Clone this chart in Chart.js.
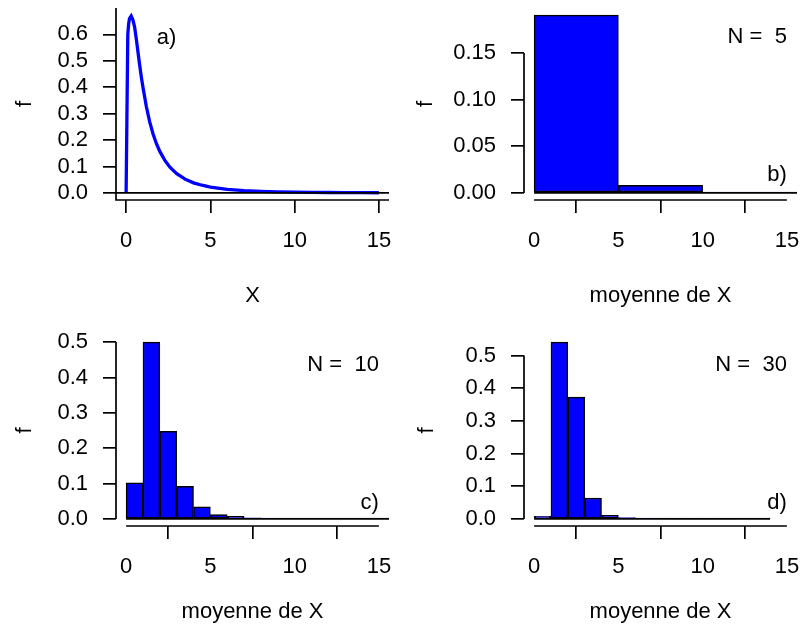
<!DOCTYPE html>
<html><head><meta charset="utf-8">
<script src="https://cdn.jsdelivr.net/npm/chart.js@4.4.0/dist/chart.umd.min.js"></script>
<style>
html,body{margin:0;padding:0;background:#fff;}
#wrap{position:relative;width:803px;height:636px;overflow:hidden;background:#fff;}
canvas{position:absolute;left:-100px;top:-100px;}
</style></head><body>
<div id="wrap">
<canvas id="ca" width="1003" height="836"></canvas>
<canvas id="cb" width="1003" height="836"></canvas>
<canvas id="cc" width="1003" height="836"></canvas>
<canvas id="cd" width="1003" height="836"></canvas>
</div>
<script>
// ---- data ----
const densX = [0, 0.1, 0.15, 0.2, 0.3, 0.4, 0.5, 0.6, 0.7, 0.8, 0.9, 1.0, 1.2, 1.4, 1.6, 1.8, 2.0, 2.3, 2.6, 3.0, 3.5, 4.0, 4.5, 5, 6, 7, 8, 9, 10, 11, 12, 13, 14, 15];
const densY = [0, 0.60, 0.64, 0.66, 0.67, 0.655, 0.63, 0.585, 0.535, 0.486, 0.44, 0.40, 0.327, 0.269, 0.223, 0.186, 0.157, 0.123, 0.097, 0.073, 0.052, 0.038, 0.029, 0.022, 0.013, 0.0086, 0.0057, 0.004, 0.0028, 0.002, 0.0015, 0.0011, 0.0008, 0.0006];

const breaksB = [0, 5, 10, 15, 20];
const histB = [0.1907, 0.0082, 0.0008, 0.0002];

const breaksC = [0,1,2,3,4,5,6,7,8,9,10,11,12,13,14,15,16];
const histC = [0.102, 0.500, 0.248, 0.0925, 0.034, 0.0125, 0.007, 0.003, 0.002, 0.0015, 0.001, 0.001, 0.001, 0.0005, 0.0003, 0.0005];

const breaksD = [0,1,2,3,4,5,6,7,8,9,10,11,12,13,14];
const histD = [0.008, 0.541, 0.3725, 0.064, 0.011, 0.004, 0.002, 0.0005, 0.0003, 0.0003, 0.0003, 0.0003, 0.001, 0.001];

const xTicks = [0, 5, 10, 15];
const xTickLabels = ["0", "5", "10", "15"];
const yTicksA = [0, 0.1, 0.2, 0.3, 0.4, 0.5, 0.6];
const yTickLabelsA = ["0.0", "0.1", "0.2", "0.3", "0.4", "0.5", "0.6"];
const yTicksB = [0, 0.05, 0.10, 0.15];
const yTickLabelsB = ["0.00", "0.05", "0.10", "0.15"];
const yTicksC = [0, 0.1, 0.2, 0.3, 0.4, 0.5];
const yTickLabelsC = ["0.0", "0.1", "0.2", "0.3", "0.4", "0.5"];
const yTicksD = [0, 0.1, 0.2, 0.3, 0.4, 0.5];
const yTickLabelsD = ["0.0", "0.1", "0.2", "0.3", "0.4", "0.5"];

// ---- style / layout ----
const FONT = '"Liberation Sans", Arial, Helvetica, sans-serif';
const FS = 22;
const BLUE = '#0000FF';
const LW = 1.7;
const OFF = 100;            // canvas is offset by -OFF px on both axes
const CW = 1003, CH = 836;  // canvas size

const rPlugin = {
  id: 'rstyle',
  afterDatasetsDraw(chart, args, o) {
    const ctx = chart.ctx, a = chart.chartArea, x = chart.scales.x, y = chart.scales.y;
    ctx.save();
    ctx.strokeStyle = '#000';
    ctx.lineWidth = LW;
    ctx.lineCap = 'butt';
    if (o.breaks) {
      ctx.save();
      ctx.beginPath(); ctx.rect(a.left, a.top - 2, a.right - a.left, a.bottom - a.top + 4); ctx.clip();
      ctx.beginPath();
      ctx.moveTo(x.getPixelForValue(o.breaks[0]), y.getPixelForValue(0));
      ctx.lineTo(x.getPixelForValue(o.breaks[o.breaks.length - 1]), y.getPixelForValue(0));
      ctx.stroke();
      ctx.restore();
    }
    if (o.abline0) {
      ctx.beginPath();
      ctx.moveTo(a.left, y.getPixelForValue(0));
      ctx.lineTo(a.right, y.getPixelForValue(0));
      ctx.stroke();
    }
    ctx.beginPath();
    if (o.box === 'l') {
      ctx.moveTo(a.left, a.top);
      ctx.lineTo(a.left, a.bottom);
      ctx.lineTo(a.right, a.bottom);
    } else {
      const yt = o.yTicks, xt = o.xTicks;
      ctx.moveTo(a.left, y.getPixelForValue(yt[0]));
      ctx.lineTo(a.left, y.getPixelForValue(yt[yt.length - 1]));
      ctx.moveTo(x.getPixelForValue(xt[0]), a.bottom);
      ctx.lineTo(x.getPixelForValue(xt[xt.length - 1]), a.bottom);
    }
    ctx.stroke();
    // titles
    ctx.fillStyle = '#000';
    ctx.font = FS + 'px ' + FONT;
    ctx.textAlign = 'center';
    ctx.textBaseline = 'alphabetic';
    ctx.fillText(o.xlab, (a.left + a.right) / 2, o.xlabY + OFF);
    ctx.save();
    ctx.translate(o.ylabX + OFF, (a.top + a.bottom) / 2);
    ctx.rotate(-Math.PI / 2);
    ctx.textBaseline = 'middle';
    ctx.fillText(o.ylab, 0, 0);
    ctx.restore();
    // notes
    ctx.textBaseline = 'middle';
    (o.notes || []).forEach(n => {
      ctx.textAlign = n.align;
      ctx.fillText(n.text, x.getPixelForValue(n.x), y.getPixelForValue(n.y));
    });
    ctx.restore();
  }
};

function scalesFor(area, xr, yr, yTicks, yLabels) {
  return {
    x: {
      type: 'linear', min: xr[0], max: xr[1], offset: false,
      afterBuildTicks: s => { s.ticks = xTicks.map(v => ({ value: v })); },
      afterFit: s => { s.height = CH - (area.bottom + OFF); },
      grid: { drawOnChartArea: false, drawTicks: true, tickLength: 13, color: '#000', lineWidth: LW },
      border: { display: false },
      ticks: { color: '#000', font: { family: FONT, size: FS, lineHeight: 1 }, padding: 17, maxRotation: 0, minRotation: 0, autoSkip: false,
        callback: (v) => { const i = xTicks.indexOf(v); return i >= 0 ? xTickLabels[i] : ''; } }
    },
    y: {
      type: 'linear', min: yr[0], max: yr[1],
      afterBuildTicks: s => { s.ticks = yTicks.map(v => ({ value: v })); },
      afterFit: s => { s.width = area.left + OFF; },
      grid: { drawOnChartArea: false, drawTicks: true, tickLength: 13, color: '#000', lineWidth: LW },
      border: { display: false },
      ticks: { color: '#000', font: { family: FONT, size: FS, lineHeight: 1 }, padding: 15, autoSkip: false,
        callback: (v) => { const i = yTicks.findIndex(t => Math.abs(t - v) < 1e-9); return i >= 0 ? yLabels[i] : ''; } }
    }
  };
}

function baseOptions(area, xr, yr, yTicks, yLabels, rs) {
  return {
    responsive: false, animation: false, events: [],
    layout: { padding: { left: 0, top: area.top + OFF, right: CW - (area.right + OFF), bottom: 0 } },
    plugins: { legend: { display: false }, tooltip: { enabled: false }, rstyle: rs },
    scales: scalesFor(area, xr, yr, yTicks, yLabels)
  };
}

function rRange(lo, hi) { const d = (hi - lo) * 0.04; return [lo - d, hi + d]; }

function histChart(id, area, breaks, vals, yTicks, yLabels, yTop, rs) {
  const pts = vals.map((v, i) => ({ x: (breaks[i] + breaks[i + 1]) / 2, y: v }));
  new Chart(document.getElementById(id), {
    type: 'bar',
    data: { datasets: [{ data: pts, backgroundColor: BLUE, borderColor: '#000', borderWidth: 1.5, borderSkipped: false, barPercentage: 1, categoryPercentage: 1 }] },
    options: baseOptions(area, rRange(0, 15), rRange(0, yTop), yTicks, yLabels, Object.assign({ breaks: breaks, yTicks: yTicks, xTicks: xTicks, box: 'axes' }, rs)),
    plugins: [rPlugin]
  });
}

// panel a
const areaA = { left: 116, right: 389, top: 8, bottom: 200 };
new Chart(document.getElementById('ca'), {
  type: 'line',
  data: { datasets: [{ data: densX.map((v, i) => ({ x: v, y: densY[i] })), borderColor: BLUE, borderWidth: 3.3, pointRadius: 0, tension: 0, fill: false }] },
  options: baseOptions(areaA, rRange(0, 15), rRange(0, 0.673), yTicksA, yTickLabelsA,
    { box: 'l', abline0: true, xlab: 'X', ylab: 'f', xlabY: 302, ylabX: 25,
      notes: [{ text: 'a)', x: 2.4, y: 0.585, align: 'center' }] }),
  plugins: [rPlugin]
});

// panel b
histChart('cb', { left: 524, right: 797, top: 8, bottom: 200 }, breaksB, histB, yTicksB, yTickLabelsB, 0.1907,
  { xlab: 'moyenne de X', ylab: 'f', xlabY: 302, ylabX: 426,
    notes: [{ text: 'N =  5', x: 15, y: 0.167, align: 'right' }, { text: 'b)', x: 15, y: 0.019, align: 'right' }] });

// panel c
histChart('cc', { left: 116, right: 389, top: 335, bottom: 526 }, breaksC, histC, yTicksC, yTickLabelsC, 0.5,
  { xlab: 'moyenne de X', ylab: 'f', xlabY: 618, ylabX: 25,
    notes: [{ text: 'N =  10', x: 15, y: 0.436, align: 'right' }, { text: 'c)', x: 15, y: 0.045, align: 'right' }] });

// panel d
histChart('cd', { left: 524, right: 797, top: 335, bottom: 526 }, breaksD, histD, yTicksD, yTickLabelsD, 0.541,
  { xlab: 'moyenne de X', ylab: 'f', xlabY: 618, ylabX: 427,
    notes: [{ text: 'N =  30', x: 15, y: 0.471, align: 'right' }, { text: 'd)', x: 15, y: 0.049, align: 'right' }] });
</script>
</body></html>
